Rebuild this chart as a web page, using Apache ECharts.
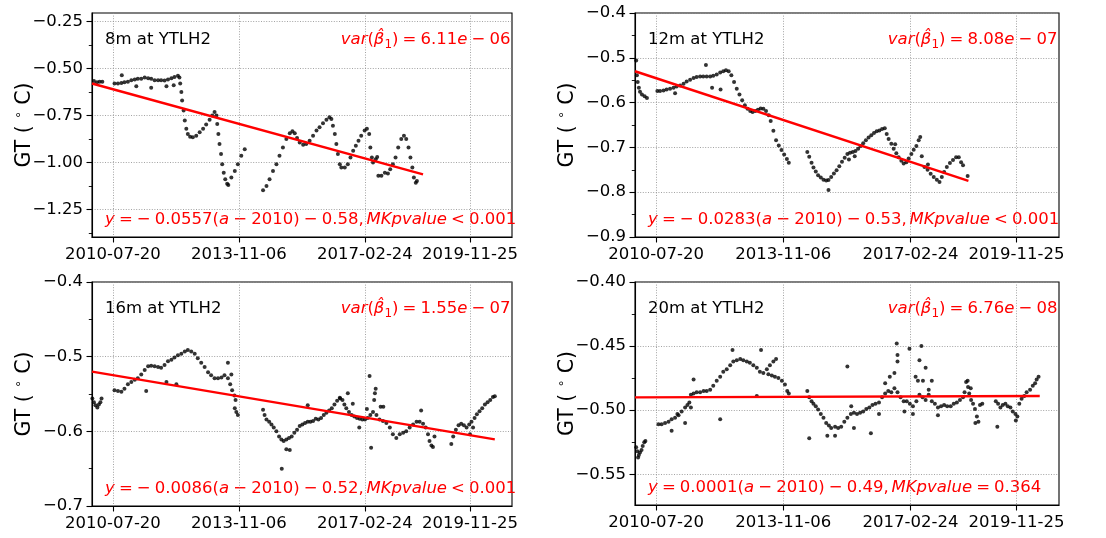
<!DOCTYPE html>
<html>
<head>
<meta charset="utf-8">
<script src="https://cdn.jsdelivr.net/npm/echarts@6/dist/echarts.min.js"></script>
<style>
  html, body { margin: 0; padding: 0; background: #fff; }
  #chart { width: 1106px; height: 538px; }
</style>
</head>
<body>
<div id="chart"></div>
<script>
// ---------- data: [decimal year, ground temperature °C] ----------
const dateTickLabels = ['2010-07-20', '2013-11-06', '2017-02-24', '2019-11-25'];
const depthLabels = ['8m at YTLH2', '12m at YTLH2', '16m at YTLH2', '20m at YTLH2'];

// linear trend y = slope * (a - 2010) + intercept, with Mann-Kendall p-value
const slopes = [-0.0557, -0.0283, -0.0086, 0.0001];
const intercepts = [-0.58, -0.53, -0.52, -0.49];
const mkOps = ['<', '<', '<', '='];
const mkValues = ['0.001', '0.001', '0.001', '0.364'];
const varMantissa = ['6.11', '8.08', '1.55', '6.76'];
const varExponent = ['06', '07', '07', '08'];
const trendStart = [2010.0, 2010.0, 2010.0, 2010.0];
const trendEnd = [2018.67, 2018.65, 2020.55, 2020.5];

// y-axis ranges and major ticks
const yRanges = [[-1.396, -0.205], [-0.9, -0.4], [-0.7, -0.4], [-0.574, -0.4]];
const yTicks = [
  [-1.25, -1.0, -0.75, -0.5, -0.25],
  [-0.9, -0.8, -0.7, -0.6, -0.5, -0.4],
  [-0.7, -0.6, -0.5, -0.4],
  [-0.55, -0.5, -0.45, -0.4]
];
const yDecimals = [2, 1, 1, 2];
const xRange = [2010, 2021];

const gt8m = [
  [2009.99,-0.550],[2010.05,-0.566],[2010.13,-0.573],[2010.20,-0.571],[2010.27,-0.570],
  [2010.59,-0.580],[2010.68,-0.580],[2010.77,-0.577],[2010.78,-0.536],[2010.85,-0.573],[2010.94,-0.570],
  [2011.03,-0.563],[2011.12,-0.559],[2011.16,-0.595],[2011.20,-0.555],[2011.29,-0.555],[2011.38,-0.548],
  [2011.47,-0.552],[2011.55,-0.555],[2011.55,-0.602],[2011.64,-0.563],[2011.73,-0.563],[2011.81,-0.563],
  [2011.90,-0.564],[2011.95,-0.595],[2011.99,-0.559],[2012.08,-0.552],[2012.14,-0.589],[2012.16,-0.545],
  [2012.25,-0.539],[2012.29,-0.548],
  [2012.31,-0.580],[2012.34,-0.625],[2012.36,-0.670],[2012.40,-0.723],[2012.43,-0.777],[2012.47,-0.821],
  [2012.51,-0.848],[2012.57,-0.863],[2012.64,-0.866],[2012.73,-0.857],[2012.82,-0.839],[2012.91,-0.821],
  [2012.99,-0.798],[2013.08,-0.773],[2013.15,-0.750],[2013.21,-0.732],[2013.26,-0.750],[2013.28,-0.795],
  [2013.31,-0.848],[2013.34,-0.902],[2013.38,-0.955],[2013.41,-1.009],[2013.45,-1.054],[2013.49,-1.089],
  [2013.54,-1.113],[2013.57,-1.120],
  [2013.65,-1.080],[2013.74,-1.045],[2013.82,-1.009],[2013.91,-0.964],[2014.00,-0.929],
  [2014.48,-1.148],[2014.57,-1.125],[2014.65,-1.089],[2014.74,-1.045],[2014.83,-1.009],[2014.91,-0.964],
  [2015.00,-0.920],[2015.09,-0.875],[2015.18,-0.845],[2015.25,-0.834],[2015.31,-0.845],[2015.37,-0.870],
  [2015.44,-0.893],[2015.53,-0.905],[2015.61,-0.902],[2015.70,-0.884],[2015.79,-0.857],[2015.88,-0.830],
  [2015.96,-0.813],[2016.05,-0.791],[2016.14,-0.773],[2016.22,-0.759],[2016.27,-0.768],[2016.31,-0.804],
  [2016.36,-0.848],[2016.40,-0.902],[2016.44,-0.955],[2016.49,-1.009],[2016.53,-1.027],[2016.62,-1.027],
  [2016.70,-1.009],[2016.77,-0.973],[2016.84,-0.938],[2016.91,-0.911],[2016.98,-0.884],[2017.05,-0.857],
  [2017.14,-0.830],[2017.20,-0.821],[2017.26,-0.848],[2017.29,-0.920],[2017.33,-0.973],[2017.36,-1.000],
  [2017.43,-0.982],[2017.47,-0.970],[2017.50,-1.071],[2017.58,-1.071],[2017.67,-1.054],[2017.75,-1.059],
  [2017.81,-1.036],[2017.88,-1.009],[2017.95,-0.973],[2018.02,-0.920],[2018.10,-0.875],[2018.17,-0.857],
  [2018.23,-0.875],[2018.29,-0.920],[2018.34,-0.973],[2018.39,-1.027],[2018.43,-1.080],[2018.48,-1.107],
  [2018.51,-1.098]
];

const gt12m = [
  [2010.03,-0.506],[2010.05,-0.539],[2010.07,-0.554],[2010.10,-0.567],[2010.13,-0.576],[2010.18,-0.582],
  [2010.25,-0.586],[2010.31,-0.590],
  [2010.58,-0.574],[2010.65,-0.574],[2010.74,-0.573],[2010.82,-0.571],[2010.91,-0.569],[2011.00,-0.567],
  [2011.04,-0.579],[2011.08,-0.564],[2011.17,-0.562],[2011.26,-0.558],[2011.34,-0.553],[2011.43,-0.549],
  [2011.52,-0.545],[2011.60,-0.543],[2011.69,-0.542],[2011.77,-0.542],[2011.84,-0.516],[2011.86,-0.542],
  [2011.95,-0.542],[2012.00,-0.567],[2012.03,-0.540],[2012.12,-0.537],[2012.21,-0.533],[2012.22,-0.571],
  [2012.29,-0.530],[2012.36,-0.528],[2012.43,-0.530],[2012.50,-0.539],[2012.57,-0.554],[2012.64,-0.569],
  [2012.71,-0.582],[2012.78,-0.595],[2012.85,-0.606],[2012.92,-0.614],[2012.99,-0.619],[2013.05,-0.621],
  [2013.12,-0.619],[2013.19,-0.616],[2013.26,-0.613],[2013.33,-0.614],[2013.40,-0.619],[2013.47,-0.628],
  [2013.52,-0.641],[2013.59,-0.663],[2013.66,-0.684],[2013.73,-0.696],[2013.80,-0.706],[2013.87,-0.716],
  [2013.94,-0.726],[2013.99,-0.734],
  [2014.47,-0.710],[2014.52,-0.721],[2014.58,-0.734],[2014.63,-0.745],[2014.69,-0.754],[2014.75,-0.762],
  [2014.82,-0.767],[2014.89,-0.772],[2014.96,-0.774],[2015.02,-0.773],[2015.02,-0.795],[2015.09,-0.766],
  [2015.16,-0.758],[2015.23,-0.751],[2015.30,-0.742],[2015.37,-0.732],[2015.44,-0.723],[2015.51,-0.715],
  [2015.55,-0.727],[2015.58,-0.712],[2015.65,-0.710],[2015.70,-0.720],[2015.72,-0.708],[2015.79,-0.703],
  [2015.85,-0.697],[2015.92,-0.691],[2015.99,-0.684],[2016.06,-0.678],[2016.13,-0.673],[2016.20,-0.668],
  [2016.27,-0.664],[2016.34,-0.662],[2016.41,-0.659],[2016.48,-0.657],
  [2016.53,-0.670],[2016.58,-0.681],[2016.65,-0.692],[2016.71,-0.703],[2016.75,-0.693],[2016.78,-0.713],
  [2016.84,-0.722],[2016.91,-0.730],[2016.97,-0.736],[2017.04,-0.733],[2017.10,-0.725],[2017.17,-0.715],
  [2017.23,-0.705],[2017.30,-0.697],[2017.36,-0.684],[2017.40,-0.677],[2017.44,-0.720],[2017.51,-0.744],
  [2017.59,-0.750],[2017.60,-0.738],[2017.67,-0.759],[2017.75,-0.766],[2017.83,-0.772],[2017.90,-0.777],
  [2017.96,-0.766],[2018.02,-0.755],[2018.09,-0.744],[2018.17,-0.735],[2018.25,-0.728],[2018.33,-0.722],
  [2018.40,-0.722],[2018.46,-0.733],[2018.51,-0.740],[2018.63,-0.764]
];

const gt16m = [
  [2010.01,-0.556],[2010.05,-0.561],[2010.09,-0.565],[2010.14,-0.568],[2010.18,-0.564],[2010.22,-0.561],
  [2010.25,-0.556],
  [2010.59,-0.545],[2010.68,-0.546],[2010.77,-0.547],[2010.85,-0.543],[2010.94,-0.537],[2011.03,-0.534],
  [2011.12,-0.531],[2011.20,-0.529],[2011.29,-0.524],[2011.38,-0.518],[2011.42,-0.546],[2011.47,-0.513],
  [2011.55,-0.512],[2011.64,-0.513],[2011.73,-0.514],[2011.81,-0.515],[2011.90,-0.511],[2011.95,-0.534],
  [2011.99,-0.506],[2012.08,-0.504],[2012.16,-0.501],[2012.21,-0.537],[2012.25,-0.498],[2012.34,-0.496],
  [2012.43,-0.493],[2012.51,-0.491],[2012.60,-0.493],[2012.69,-0.496],[2012.77,-0.502],[2012.86,-0.508],
  [2012.95,-0.514],[2013.04,-0.521],[2013.12,-0.525],[2013.21,-0.529],[2013.30,-0.529],[2013.39,-0.528],
  [2013.47,-0.525],[2013.56,-0.529],[2013.56,-0.508],[2013.62,-0.537],[2013.65,-0.524],[2013.67,-0.545],
  [2013.73,-0.552],[2013.74,-0.569],[2013.76,-0.558],[2013.78,-0.574],[2013.82,-0.578],
  [2014.48,-0.571],[2014.52,-0.578],[2014.57,-0.584],[2014.64,-0.587],[2014.70,-0.591],[2014.76,-0.595],
  [2014.83,-0.600],[2014.90,-0.607],[2014.96,-0.611],[2014.97,-0.650],[2015.02,-0.613],[2015.09,-0.611],
  [2015.09,-0.624],[2015.16,-0.609],[2015.18,-0.625],[2015.23,-0.607],[2015.30,-0.602],[2015.37,-0.598],
  [2015.44,-0.593],[2015.51,-0.591],[2015.58,-0.589],[2015.65,-0.587],[2015.65,-0.565],[2015.72,-0.587],
  [2015.79,-0.586],[2015.86,-0.583],[2015.93,-0.584],[2016.00,-0.582],[2016.07,-0.578],[2016.14,-0.575],
  [2016.21,-0.572],[2016.28,-0.569],[2016.35,-0.564],[2016.42,-0.559],[2016.49,-0.555],[2016.50,-0.556],
  [2016.56,-0.558],[2016.61,-0.564],[2016.66,-0.569],[2016.70,-0.549],[2016.73,-0.574],[2016.80,-0.578],
  [2016.83,-0.563],[2016.87,-0.580],[2016.94,-0.582],[2017.00,-0.595],[2017.01,-0.583],[2017.08,-0.584],
  [2017.15,-0.584],[2017.20,-0.570],[2017.22,-0.582],[2017.27,-0.526],[2017.29,-0.578],[2017.31,-0.622],
  [2017.36,-0.574],[2017.39,-0.558],[2017.41,-0.549],[2017.43,-0.543],[2017.45,-0.578],[2017.53,-0.584],
  [2017.56,-0.567],[2017.62,-0.586],[2017.63,-0.567],[2017.71,-0.589],[2017.80,-0.595],[2017.88,-0.604],
  [2017.97,-0.609],[2018.06,-0.604],[2018.15,-0.602],[2018.23,-0.600],[2018.32,-0.595],[2018.41,-0.591],
  [2018.50,-0.587],[2018.58,-0.587],[2018.62,-0.572],[2018.67,-0.590],[2018.74,-0.595],[2018.80,-0.604],
  [2018.84,-0.613],[2018.89,-0.619],[2018.93,-0.621],[2018.97,-0.607],
  [2019.41,-0.617],[2019.46,-0.607],[2019.53,-0.598],[2019.60,-0.592],[2019.67,-0.590],[2019.74,-0.592],
  [2019.81,-0.595],[2019.88,-0.591],[2019.90,-0.604],[2019.94,-0.587],[2019.98,-0.595],[2020.02,-0.582],
  [2020.08,-0.577],[2020.15,-0.573],[2020.22,-0.569],[2020.29,-0.564],[2020.36,-0.561],[2020.43,-0.558],
  [2020.50,-0.554],[2020.55,-0.553]
];

const gt20m = [
  [2010.03,-0.529],[2010.06,-0.532],[2010.08,-0.537],[2010.10,-0.535],[2010.13,-0.533],[2010.17,-0.531],
  [2010.20,-0.528],[2010.24,-0.525],[2010.27,-0.524],
  [2010.61,-0.511],[2010.69,-0.511],[2010.78,-0.510],[2010.87,-0.509],[2010.95,-0.507],[2010.95,-0.516],
  [2011.04,-0.506],[2011.10,-0.503],[2011.13,-0.504],[2011.21,-0.501],[2011.30,-0.498],[2011.30,-0.510],
  [2011.36,-0.496],[2011.41,-0.494],[2011.45,-0.488],[2011.45,-0.498],[2011.52,-0.487],[2011.52,-0.476],
  [2011.60,-0.486],[2011.69,-0.486],[2011.78,-0.485],[2011.86,-0.485],[2011.95,-0.484],[2012.03,-0.481],
  [2012.12,-0.477],[2012.21,-0.474],[2012.21,-0.507],[2012.29,-0.470],[2012.38,-0.468],[2012.47,-0.465],
  [2012.53,-0.453],[2012.55,-0.462],[2012.64,-0.461],[2012.73,-0.460],[2012.81,-0.461],[2012.90,-0.462],
  [2012.98,-0.463],[2013.07,-0.465],[2013.16,-0.467],[2013.16,-0.489],[2013.24,-0.470],[2013.27,-0.453],
  [2013.33,-0.471],[2013.42,-0.468],[2013.46,-0.472],[2013.50,-0.465],[2013.55,-0.473],[2013.59,-0.462],
  [2013.63,-0.474],[2013.66,-0.460],[2013.72,-0.475],[2013.81,-0.477],[2013.89,-0.480],[2013.95,-0.485],
  [2013.99,-0.487],
  [2014.47,-0.485],[2014.52,-0.490],[2014.52,-0.522],[2014.58,-0.493],[2014.63,-0.495],[2014.69,-0.497],
  [2014.75,-0.4995],[2014.82,-0.503],[2014.89,-0.506],[2014.96,-0.510],[2014.99,-0.520],[2015.03,-0.512],
  [2015.09,-0.514],[2015.19,-0.513],[2015.19,-0.520],[2015.27,-0.514],[2015.35,-0.513],[2015.43,-0.509],
  [2015.51,-0.506],[2015.51,-0.466],[2015.60,-0.503],[2015.61,-0.497],[2015.68,-0.502],[2015.68,-0.514],
  [2015.76,-0.503],[2015.84,-0.502],[2015.92,-0.501],[2016.00,-0.499],[2016.08,-0.498],[2016.12,-0.518],
  [2016.16,-0.496],[2016.24,-0.495],[2016.33,-0.494],[2016.33,-0.503],[2016.41,-0.490],[2016.49,-0.487],
  [2016.49,-0.479],[2016.57,-0.485],[2016.61,-0.474],[2016.65,-0.486],[2016.73,-0.483],[2016.73,-0.471],
  [2016.79,-0.448],[2016.81,-0.486],[2016.81,-0.457],[2016.81,-0.462],[2016.89,-0.490],[2016.97,-0.493],
  [2016.99,-0.501],[2017.05,-0.493],[2017.12,-0.452],[2017.13,-0.495],[2017.21,-0.497],[2017.21,-0.503],
  [2017.28,-0.474],[2017.30,-0.493],[2017.34,-0.477],[2017.38,-0.488],[2017.38,-0.461],[2017.43,-0.450],
  [2017.46,-0.490],[2017.47,-0.477],[2017.54,-0.492],[2017.54,-0.467],[2017.62,-0.488],[2017.62,-0.484],
  [2017.70,-0.493],[2017.70,-0.477],[2017.78,-0.495],[2017.86,-0.498],[2017.86,-0.504],[2017.94,-0.497],
  [2018.02,-0.496],[2018.10,-0.497],[2018.19,-0.497],[2018.27,-0.495],[2018.35,-0.494],[2018.43,-0.492],
  [2018.51,-0.490],[2018.55,-0.486],[2018.59,-0.478],[2018.63,-0.477],[2018.64,-0.482],[2018.67,-0.487],
  [2018.71,-0.483],[2018.72,-0.492],[2018.77,-0.495],[2018.82,-0.499],[2018.83,-0.510],[2018.87,-0.505],
  [2018.91,-0.509],[2018.95,-0.496],[2019.01,-0.495],
  [2019.36,-0.493],[2019.40,-0.513],[2019.42,-0.495],[2019.48,-0.498],[2019.54,-0.496],[2019.61,-0.495],
  [2019.67,-0.497],[2019.74,-0.498],[2019.80,-0.501],[2019.87,-0.503],[2019.88,-0.508],[2019.92,-0.505],
  [2019.97,-0.495],[2020.03,-0.491],[2020.10,-0.489],[2020.16,-0.486],[2020.25,-0.484],[2020.32,-0.481],
  [2020.38,-0.479],[2020.42,-0.476],[2020.47,-0.474]
];

const seriesData = [gt8m, gt12m, gt16m, gt20m];

// ---------- helpers ----------
const FONT = 'DejaVu Sans';
const MINUS = '\u2212';
const SP = '\u2005';   // medium math space
const THIN = '\u2006';

function decimalYear(s) {
  const [y, m, d] = s.split('-').map(Number);
  const start = Date.UTC(y, 0, 1);
  const len = (Date.UTC(y + 1, 0, 1) - start) / 86400000;
  return y + (Date.UTC(y, m - 1, d) - start) / 86400000 / len;
}
const xTickPos = dateTickLabels.map(decimalYear);

function minorTicks(ticks, range) {
  const step = ticks[1] - ticks[0];
  const out = [];
  for (let k = -1; k < ticks.length; k++) {
    const v = ticks[0] + step * (k + 0.5);
    if (v > range[0] && v < range[1]) out.push(+v.toFixed(4));
  }
  return out;
}
function fmtNum(v, dec) {
  return v.toFixed(dec).replace('-', MINUS);
}

// ---------- layout ----------
const grids = [
  { left: 92,  top: 13,  width: 420, height: 224 },
  { left: 635, top: 13,  width: 424, height: 224 },
  { left: 92,  top: 282, width: 420, height: 224 },
  { left: 635, top: 282, width: 424, height: 223 }
];

const lineStyleBlack = { color: '#000', width: 1.1 };
const gridLineStyle = { color: '#8c8c8c', width: 0.8, type: [1, 1.6] };

const xAxes = [], yAxes = [], series = [], graphics = [];

const richMath = {
  i:   { fontStyle: 'italic', fontFamily: FONT, fontSize: 16.5, fill: '#ff0000', lineHeight: 22 },
  sub: { fontFamily: FONT, fontSize: 12, fill: '#ff0000', verticalAlign: 'bottom', lineHeight: 12 }
};

grids.forEach((g, p) => {
  xAxes.push({
    type: 'value', gridIndex: p, min: xRange[0], max: xRange[1],
    axisLine: { show: true, lineStyle: lineStyleBlack },
    axisTick: { show: true, customValues: xTickPos, length: 5.5, lineStyle: lineStyleBlack },
    axisLabel: {
      customValues: xTickPos, margin: 9, color: '#000', fontFamily: FONT, fontSize: 16.5,
      formatter: v => {
        const k = xTickPos.findIndex(t => Math.abs(t - v) < 1e-6);
        return k >= 0 ? dateTickLabels[k] : '';
      }
    },
    splitLine: { show: true, lineStyle: gridLineStyle }
  });

  yAxes.push({
    type: 'value', gridIndex: p, min: yRanges[p][0], max: yRanges[p][1],
    axisLine: { show: true, lineStyle: lineStyleBlack },
    axisTick: { show: true, customValues: yTicks[p], length: 5.5, lineStyle: lineStyleBlack },
    axisLabel: {
      customValues: yTicks[p], margin: 9, color: '#000', fontFamily: FONT, fontSize: 16.5,
      formatter: v => fmtNum(v, yDecimals[p])
    },
    splitLine: { show: true, lineStyle: gridLineStyle },
    name: 'GT ( {deg|\u2218} C)', nameLocation: 'middle', nameGap: 55, nameMoveOverlap: false,
    nameTextStyle: {
      fontFamily: FONT, fontSize: 20.5, color: '#000', lineHeight: 24,
      rich: { deg: { fontFamily: FONT, fontSize: 12, color: '#000', verticalAlign: 'top', lineHeight: 12 } }
    }
  });
  // minor ticks halfway between the major ones
  yAxes.push({
    type: 'value', gridIndex: p, min: yRanges[p][0], max: yRanges[p][1], position: 'left', offset: 0,
    axisLine: { show: false },
    axisTick: { show: true, customValues: minorTicks(yTicks[p], yRanges[p]), length: 3.2, lineStyle: { color: '#000', width: 0.9 } },
    axisLabel: { show: false },
    splitLine: { show: false }
  });

  series.push({
    type: 'scatter', xAxisIndex: p, yAxisIndex: 2 * p,
    data: seriesData[p], symbol: 'circle', symbolSize: 4,
    itemStyle: { color: '#000' }, silent: true, z: 2
  });

  const f = a => slopes[p] * (a - 2010) + intercepts[p];
  series.push({
    type: 'line', xAxisIndex: p, yAxisIndex: 2 * p,
    data: [[trendStart[p], f(trendStart[p])], [trendEnd[p], f(trendEnd[p])]],
    showSymbol: false, symbol: 'none', silent: true, z: 3,
    lineStyle: { color: '#ff0000', width: 2.4 }
  });

  // annotations
  const slopeTxt = (slopes[p] < 0 ? MINUS + SP : '') + Math.abs(slopes[p]).toFixed(4);
  const icptTxt = (intercepts[p] < 0 ? MINUS : '+') + SP + Math.abs(intercepts[p]).toFixed(2);
  const eqText = '{i|y}' + SP + '=' + SP + slopeTxt + '({i|a}' + SP + MINUS + SP + '2010)' + SP + icptTxt +
                 ',' + THIN + '{i|MKpvalue}' + SP + mkOps[p] + SP + mkValues[p];
  const varText = '{i|var}({i|\u03B2\u0302}{sub|1})' + SP + '=' + SP + varMantissa[p] + '{i|e}' + SP + MINUS + SP + varExponent[p];

  graphics.push({
    type: 'text', x: g.left + 13, y: g.top + 27, silent: true,
    style: { text: depthLabels[p], fill: '#000', fontFamily: FONT, fontSize: 16.5, align: 'left', verticalAlign: 'middle' }
  });
  graphics.push({
    type: 'text', x: g.left + g.width - 1.5, y: g.top + 27, silent: true,
    style: { text: varText, rich: richMath, fill: '#ff0000', fontFamily: FONT, fontSize: 16.5, lineHeight: 22,
             align: 'right', verticalAlign: 'middle' }
  });
  graphics.push({
    type: 'text', x: g.left + 13, y: g.top + g.height - 17, silent: true,
    style: { text: eqText, rich: richMath, fill: '#ff0000', fontFamily: FONT, fontSize: 16.5, lineHeight: 22,
             align: 'left', verticalAlign: 'middle' }
  });
});

const chart = echarts.init(document.getElementById('chart'), null, { renderer: 'canvas' });
chart.setOption({
  animation: false,
  backgroundColor: '#fff',
  grid: grids.map(g => Object.assign({ show: true, borderColor: '#000', borderWidth: 1.1, backgroundColor: 'transparent' }, g)),
  xAxis: xAxes,
  yAxis: yAxes,
  series: series,
  graphic: graphics
});
</script>
</body>
</html>
